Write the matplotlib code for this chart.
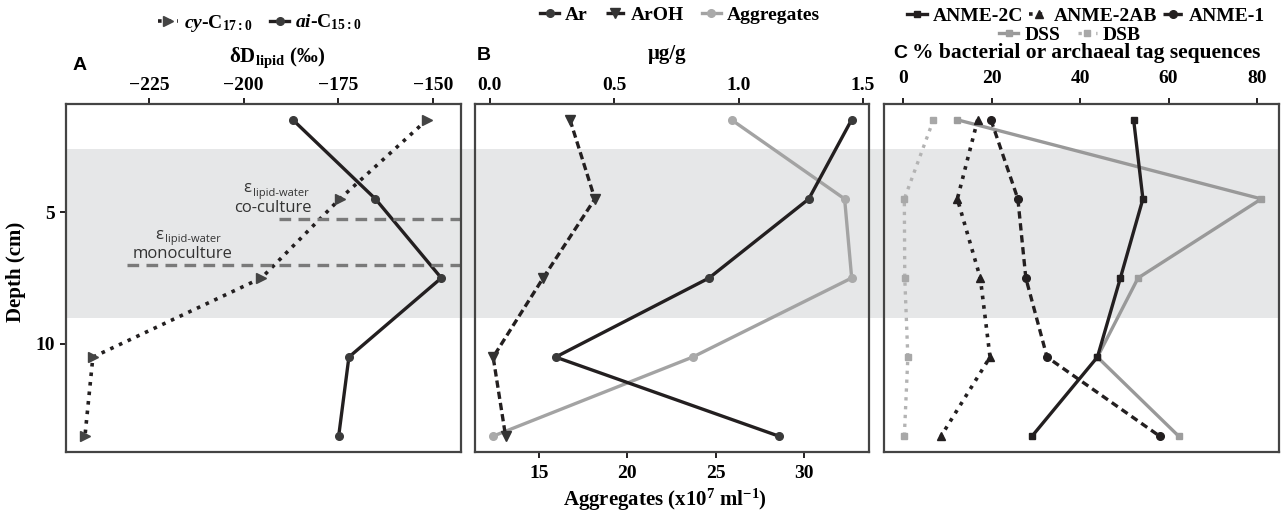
import numpy as np
import matplotlib
matplotlib.use("Agg")
import matplotlib.pyplot as plt
from matplotlib.patches import Rectangle

plt.rcParams['font.family'] = ['Liberation Serif', 'DejaVu Serif']
plt.rcParams['font.weight'] = 'bold'
plt.rcParams['mathtext.fontset'] = 'custom'
plt.rcParams['mathtext.rm'] = 'Liberation Serif:bold'
plt.rcParams['mathtext.it'] = 'Liberation Serif:italic:bold'
plt.rcParams['mathtext.bf'] = 'Liberation Serif:bold'

# --- Daten ---
depth = [1.5, 4.5, 7.5, 10.5, 13.5]

# Panel A: dD lipid (permil)
cy_c17 = [-151.6, -174.6, -195.3, -239.8, -241.9]
ai_c15 = [-187.0, -165.2, -147.8, -172.2, -174.9]
eps_coculture = (-190.7, 5.27)     # (x start, depth)
eps_monoculture = (-230.8, 7.0)

# Panel B: ug/g und Aggregate
ar = [1.454, 1.282, 0.881, 0.264, 1.162]
aroh = [0.322, 0.422, 0.214, 0.013, 0.063]
aggregates = [25.9, 32.3, 32.7, 23.7, 12.4]

# Panel C: % tag sequences
anme_2c = [52.1, 54.2, 49.1, 43.9, 29.1]
anme_2ab = [16.8, 12.2, 17.4, 19.6, 8.5]
anme_1 = [19.8, 25.9, 27.7, 32.5, 58.0]
dss = [12.2, 81.0, 53.1, 43.9, 62.3]
dsb = [6.8, 0.2, 0.3, 1.0, 0.2]

band = (2.6, 9.0)   # grau hinterlegter Bereich (cm)

# --- Layout ---
W, H = 1283, 519
fig = plt.figure(figsize=(W / 100, H / 100), dpi=100)

def box(x0, x1, y0=104, y1=452):
    return [x0 / W, 1 - y1 / H, (x1 - x0) / W, (y1 - y0) / H]

axA = fig.add_axes(box(66, 461))
axB = fig.add_axes(box(475, 869))
axC = fig.add_axes(box(884, 1279))
axB2 = axB.twiny()

edge = '#444444'
black = '#231f20'
for ax in (axA, axB, axC):
    ax.set_facecolor('none')
    ax.set_ylim(14.1, 0.9)
    for s in ax.spines.values():
        s.set_color(edge)
        s.set_linewidth(1.6)
    ax.tick_params(labelsize=14, length=4, width=1.4, color=black)
    ax.xaxis.set_ticks_position('top')
    ax.xaxis.set_label_position('top')

# --- A ---
axA.set_xlim(-246.9, -142.6)
axA.set_xticks([-225, -200, -175, -150])
axA.set_yticks([5, 10])
axA.tick_params(axis='x', pad=3)
axA.tick_params(axis='y', pad=4)
lc, = axA.plot(cy_c17, depth, linestyle=':', color=black, lw=2.6,
               marker='>', ms=7, mfc='#444444', mec='#444444')
la, = axA.plot(ai_c15, depth, linestyle='-', color=black, lw=2.4,
               marker='o', ms=5.5, mfc='#3a3a3a', mec='#3a3a3a')
for x0, d in (eps_coculture, eps_monoculture):
    axA.hlines(d, x0, -140, colors='#7a7a7a', linestyles=(0, (3.5, 2.2)), lw=2.4, clip_on=True)
anno = dict(family='Open Sans', weight='normal', color='#333333')
axA.text(-192.3, 4.85, 'co-culture', ha='center', va='center', fontsize=12, **anno)
axA.text(-200.2, 4.1, 'ε', ha='left', va='center', fontsize=12, **anno)
axA.text(-197.6, 4.3, 'lipid-water', ha='left', va='center', fontsize=8, **anno)
axA.text(-216.0, 6.6, 'monoculture', ha='center', va='center', fontsize=12, **anno)
axA.text(-223.4, 5.85, 'ε', ha='left', va='center', fontsize=12, **anno)
axA.text(-220.8, 6.05, 'lipid-water', ha='left', va='center', fontsize=8, **anno)

# --- B ---
axB.set_xlim(-0.06, 1.524)
axB.set_xticks([0.0, 0.5, 1.0, 1.5])
axB.set_xticklabels(['0.0', '0.5', '1.0', '1.5'])
axB.set_yticks([])
axB.tick_params(axis='x', pad=3)
axB2.set_facecolor('none')
axB2.set_xlim(11.38, 33.68)
axB2.xaxis.set_ticks_position('bottom')
axB2.xaxis.set_label_position('bottom')
axB2.set_xticks([15, 20, 25, 30])
axB2.tick_params(labelsize=14, length=4, width=1.4, color=black, pad=5)
for s in axB2.spines.values():
    s.set_visible(False)
lg, = axB2.plot(aggregates, depth, color='#a3a3a3', lw=2.4,
                marker='o', ms=5.5, mfc='#aaaaaa', mec='#aaaaaa', zorder=1)
lar, = axB.plot(ar, depth, color=black, lw=2.4, marker='o', ms=5.5,
                mfc='#3a3a3a', mec='#3a3a3a', zorder=3)
laroh, = axB.plot(aroh, depth, color=black, lw=2.4, linestyle=(0, (2.2, 1.2)),
                  marker='v', ms=6.5, mfc='#333333', mec='#333333', zorder=3)
axB.set_zorder(2)
axB2.set_zorder(1)

# --- C ---
axC.set_xlim(-4.4, 85.0)
axC.set_xticks([0, 20, 40, 60, 80])
axC.set_yticks([])
axC.tick_params(axis='x', pad=8)
l2c, = axC.plot(anme_2c, depth, color=black, lw=2.4, marker='s', ms=5,
                mfc=black, mec=black, zorder=4)
l2ab, = axC.plot(anme_2ab, depth, color=black, lw=2.6, linestyle=':',
                 marker='^', ms=6, mfc=black, mec=black, zorder=4)
l1, = axC.plot(anme_1, depth, color=black, lw=2.4, linestyle=(0, (2.2, 1.4)),
               marker='o', ms=5.5, mfc=black, mec=black, zorder=4)
lss, = axC.plot(dss, depth, color='#999999', lw=2.4, marker='s', ms=5,
                mfc='#9d9d9d', mec='#9d9d9d', zorder=3)
lsb, = axC.plot(dsb, depth, color='#b3b3b3', lw=2.4, linestyle=':',
                marker='s', ms=4, mfc='#a8a8a8', mec='#a8a8a8', zorder=3)

# --- grauer Bereich über alle Panels ---
y_top = fig.transFigure.inverted().transform(axA.transData.transform((-200, band[0])))[1]
y_bot = fig.transFigure.inverted().transform(axA.transData.transform((-200, band[1])))[1]
fig.patches.append(Rectangle((66 / W, y_bot), (1279 - 66) / W, y_top - y_bot,
                             transform=fig.transFigure, facecolor='#e6e7e8',
                             edgecolor='none', zorder=-5))

# --- Legenden ---
leg_kw = dict(frameon=False, fontsize=14, handlelength=1.0, handletextpad=0.3,
              columnspacing=0.9, borderaxespad=0, borderpad=0)
fig.legend([lc, la], ['$\\it{cy}$-C$_{17:0}$', '$\\it{ai}$-C$_{15:0}$'],
           loc='center', bbox_to_anchor=(260 / W, 1 - 23 / H), ncol=2, **leg_kw)
fig.legend([lar, laroh, lg], ['Ar', 'ArOH', 'Aggregates'],
           loc='center', bbox_to_anchor=(680 / W, 1 - 15 / H), ncol=3, **leg_kw)
fig.legend([l2c, l2ab, l1], ['ANME-2C', 'ANME-2AB', 'ANME-1'],
           loc='center', bbox_to_anchor=(1086 / W, 1 - 16 / H), ncol=3,
           **{**leg_kw, 'columnspacing': 0.3})
fig.legend([lss, lsb], ['DSS', 'DSB'],
           loc='center', bbox_to_anchor=(1070 / W, 1 - 35 / H), ncol=2, **leg_kw)

# --- Achsentitel und Panelbuchstaben ---
fig.text(277 / W, 1 - 58 / H, 'δD$_{\\mathrm{lipid}}$ (‰)', ha='center', va='center', fontsize=15)
fig.text(667 / W, 1 - 54 / H, 'μg/g', ha='center', va='center', fontsize=15)
fig.text(912 / W, 1 - 53 / H, '% bacterial or archaeal tag sequences', ha='left',
         va='center', fontsize=15.5)
fig.text(665 / W, 1 - 500 / H, 'Aggregates (x10$^{7}$ ml$^{-1}$)', ha='center',
         va='center', fontsize=15)
fig.text(16 / W, 1 - 272 / H, 'Depth (cm)', ha='center', va='center', rotation=90, fontsize=15)
lab = dict(family='Liberation Sans', weight='bold', fontsize=14, ha='left', va='center')
fig.text(73 / W, 1 - 65 / H, 'A', **lab)
fig.text(477 / W, 1 - 55 / H, 'B', **lab)
fig.text(893 / W, 1 - 53 / H, 'C', **lab)

fig.savefig('out.png', dpi=100)
